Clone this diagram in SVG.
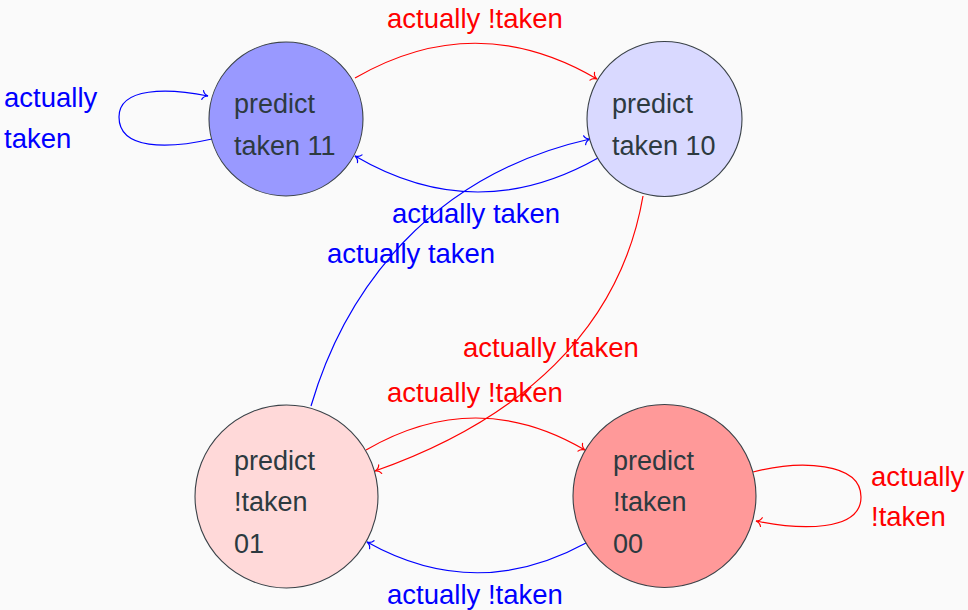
<svg xmlns="http://www.w3.org/2000/svg" width="968" height="610" viewBox="0 0 968 610">
  <defs>
    <marker id="to-blue" viewBox="-7 -6 9 12" markerWidth="9" markerHeight="12" refX="0" refY="0" orient="auto" markerUnits="userSpaceOnUse">
      <path d="M-5.5,-4.5 C-4.5,-1.6 -1.8,-0.4 0,0 C-1.8,0.4 -4.5,1.6 -5.5,4.5" fill="none" stroke="#0000ff" stroke-width="1.2" stroke-linecap="round"/>
    </marker>
    <marker id="to-red" viewBox="-7 -6 9 12" markerWidth="9" markerHeight="12" refX="0" refY="0" orient="auto" markerUnits="userSpaceOnUse">
      <path d="M-5.5,-4.5 C-4.5,-1.6 -1.8,-0.4 0,0 C-1.8,0.4 -4.5,1.6 -5.5,4.5" fill="none" stroke="#ff0000" stroke-width="1.2" stroke-linecap="round"/>
    </marker>
  </defs>
  <style>
    .state { stroke: #3a4248; stroke-width: 1.1; }
    .state-text { font-family: "Liberation Sans", Arial, sans-serif; font-size: 27px; fill: #2d3a40; }
    .edge { fill: none; stroke-width: 1.2; }
    .blue { stroke: #0000ff; marker-end: url(#to-blue); }
    .red { stroke: #ff0000; marker-end: url(#to-red); }
    .label { font-family: "Liberation Sans", Arial, sans-serif; font-size: 27.5px; }
    .lb { fill: #0000ff; }
    .lr { fill: #ff0000; }
  </style>
  <rect width="968" height="610" fill="#fafafa"/>

  <!-- transitions -->
  <g id="edges">
    <!-- 11 -> 10 on !taken -->
    <path class="edge red" d="M355,78 Q476,8 597,79"/>
    <!-- 10 -> 11 on taken -->
    <path class="edge blue" d="M598,158 Q476,227 355,156"/>
    <!-- 11 self loop on taken -->
    <path class="edge blue" d="M212,139 C168,149 119,150 119,117 C119,87 168,88 208,96"/>
    <!-- 01 -> 10 on taken -->
    <path class="edge blue" d="M311,406 C345,290 430,175 590,139"/>
    <!-- 10 -> 01 on !taken -->
    <path class="edge red" d="M643,196 C620,330 520,420 375,471"/>
    <!-- 01 -> 00 on !taken -->
    <path class="edge red" d="M366,450 Q476,386 585,450"/>
    <!-- 00 -> 01, labelled !taken -->
    <path class="edge blue" d="M586,543 Q476,603 367,542"/>
    <!-- 00 self loop on !taken -->
    <path class="edge red" d="M753,472 C800,460 861,462 861,497 C861,532 800,530 756,521"/>

    <text class="label lr" x="387" y="28">actually !taken</text>
    <text class="label lb" x="4" y="107">actually</text>
    <text class="label lb" x="4" y="148">taken</text>
    <text class="label lb" x="392" y="223">actually taken</text>
    <text class="label lb" x="327" y="263">actually taken</text>
    <text class="label lr" x="463" y="357">actually !taken</text>
    <text class="label lr" x="387" y="402">actually !taken</text>
    <text class="label lr" x="871" y="486">actually</text>
    <text class="label lr" x="871" y="526">!taken</text>
    <text class="label lb" x="387" y="604">actually !taken</text>
  </g>

  <g id="state-11">
    <circle class="state" cx="286" cy="119" r="77" fill="#9999ff"/>
    <text class="state-text" x="234" y="113">predict</text>
    <text class="state-text" x="234" y="155">taken 11</text>
  </g>

  <g id="state-10">
    <circle class="state" cx="664.5" cy="119" r="77.5" fill="#d9d9ff"/>
    <text class="state-text" x="612" y="113">predict</text>
    <text class="state-text" x="612" y="155">taken 10</text>
  </g>

  <g id="state-01">
    <circle class="state" cx="286.5" cy="496.5" r="91.5" fill="#ffd9d9"/>
    <text class="state-text" x="234" y="470">predict</text>
    <text class="state-text" x="234" y="511">!taken</text>
    <text class="state-text" x="234" y="553">01</text>
  </g>

  <g id="state-00">
    <circle class="state" cx="664.5" cy="496" r="91.5" fill="#ff9999"/>
    <text class="state-text" x="613" y="470">predict</text>
    <text class="state-text" x="613" y="511">!taken</text>
    <text class="state-text" x="613" y="553">00</text>
  </g>
</svg>
